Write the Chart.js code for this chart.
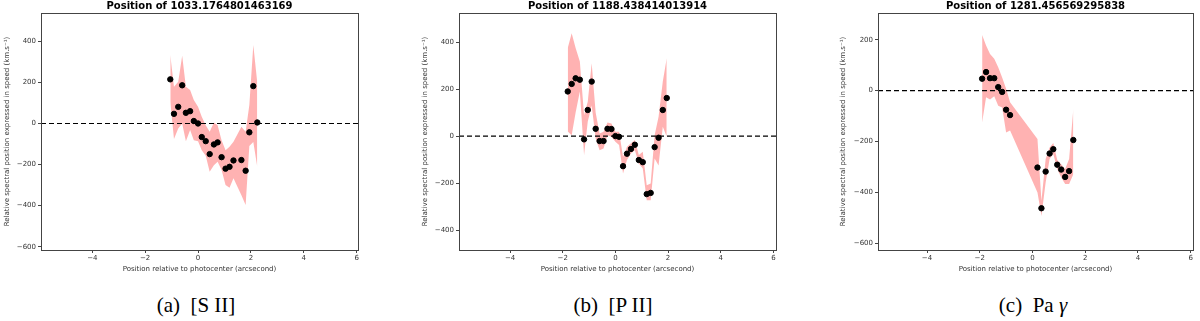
<!DOCTYPE html>
<html>
<head>
<meta charset="utf-8">
<script src="https://cdn.jsdelivr.net/npm/chart.js@4.4.0/dist/chart.umd.min.js"></script>
<style>
  body { margin: 0; background: #fff; width: 1200px; height: 321px; position: relative; overflow: hidden; }
  .panel { position: absolute; top: 0; height: 280px; }
  .caption { position: absolute; top: 293px; font-family: "Liberation Serif", "DejaVu Serif", serif; font-size: 21px; color: #000; white-space: pre; transform: translateX(-50%); }
</style>
</head>
<body>
<div class="panel" style="left:0px;width:363px"><canvas id="chartS"></canvas></div>
<div class="panel" style="left:418px;width:363px"><canvas id="chartP"></canvas></div>
<div class="panel" style="left:836px;width:362px"><canvas id="chartPa"></canvas></div>
<div class="caption" style="left:196px">(a)  [S II]</div>
<div class="caption" style="left:613px">(b)  [P II]</div>
<div class="caption" style="left:1033px">(c)  Pa <i>γ</i></div>
<script>
// tick labels
const xTicks = [-4, -2, 0, 2, 4, 6];
const yTicksS = [-600, -400, -200, 0, 200, 400];
const yTicksP = [-400, -200, 0, 200, 400];
const yTicksPa = [-600, -400, -200, 0, 200];

// (a) [S II]
const sPos   = [-1.05,-0.91,-0.75,-0.60,-0.46,-0.30,-0.16,0,0.14,0.29,0.44,0.60,0.74,0.89,1.04,1.19,1.34,1.64,1.80,1.94,2.09,2.24];
const sSpeed = [215,47,81,186,52,60,12,0,-66,-86,-149,-102,-92,-164,-220,-211,-180,-178,-230,-43,182,5];
const sHigh  = [333,179,203,330,179,163,114,81,33,-8,-40,5,-8,-81,-130,-113,-89,-16,-40,90,382,200];
const sLow   = [106,-76,-24,0,-86,-32,-81,-86,-130,-157,-235,-203,-186,-227,-300,-313,-267,-349,-397,-110,-90,-211];

// (b) [P II]
const pPos   = [-1.81,-1.66,-1.51,-1.35,-1.19,-1.05,-0.90,-0.75,-0.60,-0.45,-0.30,-0.15,0,0.14,0.29,0.44,0.59,0.74,0.89,1.04,1.19,1.34,1.49,1.64,1.80,1.95];
const pSpeed = [190,222,246,240,-14,111,232,31,-21,-21,31,30,0,-3,-128,-75,-55,-37,-102,-111,-247,-242,-47,-7,111,162];
const pHigh  = [375,438,375,317,90,146,310,100,11,18,58,54,18,18,-88,-45,-31,-17,-81,-67,-209,-202,4,82,232,331];
const pLow   = [20,4,100,190,-81,61,130,-10,-60,-53,4,-3,-24,-38,-159,-102,-74,-60,-117,-138,-273,-273,-95,-125,40,-3];

// (c) Pa gamma
const paPos   = [-1.91,-1.76,-1.61,-1.45,-1.30,-1.15,-1.00,-0.85,0.19,0.34,0.50,0.65,0.79,0.94,1.09,1.24,1.39,1.55];
const paSpeed = [47,73,49,49,14,-5,-75,-96,-302,-462,-318,-247,-230,-291,-310,-339,-316,-194];
const paHigh  = [219,177,144,125,92,52,7,-46,-190,-433,-269,-223,-206,-272,-289,-308,-269,-72];
const paLow   = [-125,-26,-35,-22,-59,-66,-164,-157,-400,-492,-361,-269,-249,-308,-341,-367,-367,-328];

const font = 'DejaVu Sans';
const minus = v => String(v).replace('-', '\u2212');
const pts = (xs, ys) => xs.map((x, i) => ({ x: x, y: ys[i] }));

// frame, zero line and title drawn around the chart area
const framePlugin = {
    id: 'frame',
    afterDatasetDraw(chart, args) {
        if (args.index !== 1) return;
        const { ctx, chartArea: a, scales: { y } } = chart;
        const y0 = y.getPixelForValue(0);
        ctx.save();
        ctx.strokeStyle = '#000';
        ctx.lineWidth = 1.2;
        ctx.setLineDash([5, 3]);
        ctx.beginPath();
        ctx.moveTo(a.left, y0);
        ctx.lineTo(a.right, y0);
        ctx.stroke();
        ctx.restore();
    },
    afterDraw(chart) {
        const { ctx, chartArea: a } = chart;
        ctx.save();
        ctx.strokeStyle = '#444';
        ctx.lineWidth = 1;
        ctx.strokeRect(a.left + 0.5, a.top + 0.5, a.right - a.left, a.bottom - a.top);
        ctx.fillStyle = '#000';
        ctx.font = 'bold 10px "' + font + '"';
        ctx.textAlign = 'center';
        ctx.textBaseline = 'middle';
        ctx.fillText(chart.options.plugins.frame.title, (a.left + a.right) / 2, 6.5);
        ctx.restore();
    }
};

function makeChart(id, title, pos, speed, high, low, yTicks, xMin, xMax, yMin, yMax, yWidth, padRight) {
    new Chart(document.getElementById(id), {
        type: 'scatter',
        data: {
            datasets: [{
                data: pts(pos, speed),
                backgroundColor: '#000',
                borderColor: '#000',
                pointRadius: 2.7,
                order: 0
            }, {
                data: pts(pos, low),
                showLine: true,
                borderWidth: 0,
                borderColor: 'rgba(255,0,0,0)',
                pointRadius: 0,
                fill: false,
                order: 1
            }, {
                data: pts(pos, high),
                showLine: true,
                borderWidth: 0,
                borderColor: 'rgba(255,0,0,0)',
                backgroundColor: 'rgba(255,0,0,0.3)',
                pointRadius: 0,
                fill: '-1',
                order: 2
            }]
        },
        options: {
            responsive: true,
            maintainAspectRatio: false,
            animation: false,
            layout: { padding: { top: 13, right: padRight, left: 0, bottom: 0 } },
            plugins: {
                legend: { display: false },
                tooltip: { enabled: false },
                frame: { title: title }
            },
            scales: {
                x: {
                    type: 'linear',
                    min: xMin, max: xMax,
                    afterBuildTicks: s => { s.ticks = xTicks.map(v => ({ value: v })); },
                    afterFit: s => { s.height = 30; },
                    grid: { drawOnChartArea: false, drawTicks: true, tickLength: 3, color: '#444' },
                    border: { display: false },
                    ticks: { color: '#333', font: { family: font, size: 7 }, padding: 1, maxRotation: 0, autoSkip: false, callback: minus },
                    title: { display: true, text: 'Position relative to photocenter (arcsecond)', color: '#333', font: { family: font, size: 7 }, padding: { top: 0, bottom: 7 } }
                },
                y: {
                    min: yMin, max: yMax,
                    afterBuildTicks: s => { s.ticks = yTicks.map(v => ({ value: v })); },
                    afterFit: s => { s.width = yWidth; },
                    grid: { drawOnChartArea: false, drawTicks: true, tickLength: 3, color: '#444' },
                    border: { display: false },
                    ticks: { color: '#333', font: { family: font, size: 7 }, padding: 2, autoSkip: false, callback: minus },
                    title: { display: true, text: 'Relative spectral position expressed in speed (km.s\u207B\u00B9)', color: '#333', font: { family: font, size: 7 }, padding: { top: 3, bottom: 0 } }
                }
            }
        },
        plugins: [framePlugin]
    });
}

makeChart('chartS', 'Position of 1033.1764801463169', sPos, sSpeed, sHigh, sLow, yTicksS, -5.94, 6.05, -616, 538, 41, 3);
makeChart('chartP', 'Position of 1188.438414013914', pPos, pSpeed, pHigh, pLow, yTicksP, -5.94, 6.1, -485, 524, 41, 2);
makeChart('chartPa', 'Position of 1281.456569295838', paPos, paSpeed, paHigh, paLow, yTicksPa, -5.86, 6.09, -626, 305, 42, 2);
</script>
</body>
</html>
